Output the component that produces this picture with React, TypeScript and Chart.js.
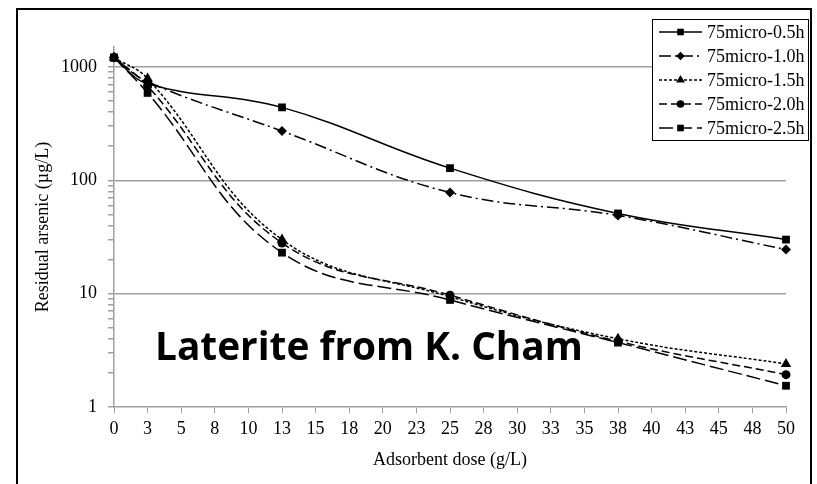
import React, { useEffect, useRef } from "react";
import { Chart, registerables } from "chart.js";

Chart.register(...registerables);

const doses = [0, 2.5, 12.5, 25, 37.5, 50];
const seriesNames = ["75micro-0.5h", "75micro-1.0h", "75micro-1.5h", "75micro-2.0h", "75micro-2.5h"];
const s05 = [1210, 710, 440, 128, 51, 30];
const s10 = [1210, 740, 272, 78, 49, 24.5];
const s15 = [1210, 790, 30, 9.4, 4.0, 2.4];
const s20 = [1210, 680, 28, 9.7, 3.8, 1.93];
const s25 = [1210, 590, 23, 8.8, 3.7, 1.54];
const yMajorTicks = [1, 10, 100, 1000];
const xTickStep = 2.5;
const yTitle = "Residual arsenic (\u00B5g/L)";
const xTitle = "Adsorbent dose (g/L)";
const annotation = "Laterite from K. Cham";

const seriesValues = [s05, s10, s15, s20, s25];
const dashes = [[], [12, 4, 2, 4], [3, 2], [8, 4], [14, 5]];
const shapes = ["rect", "rectRot", "triangle", "circle", "rect"];
const radii = [5.5, 5, 6, 4.5, 5.5];

const SERIF = '"Liberation Serif", "Times New Roman", serif';
const GRAY = "#a0a0a0";

function drawMarker(ctx: CanvasRenderingContext2D, shape: string, x: number, y: number, r: number) {
  ctx.beginPath();
  if (shape === "rect") {
    const s = Math.SQRT1_2 * r;
    ctx.rect(x - s, y - s, 2 * s, 2 * s);
  } else if (shape === "rectRot") {
    ctx.moveTo(x, y - r);
    ctx.lineTo(x + r, y);
    ctx.lineTo(x, y + r);
    ctx.lineTo(x - r, y);
    ctx.closePath();
  } else if (shape === "triangle") {
    ctx.moveTo(x, y - r);
    ctx.lineTo(x + r * 0.866, y + r * 0.5);
    ctx.lineTo(x - r * 0.866, y + r * 0.5);
    ctx.closePath();
  } else {
    ctx.arc(x, y, r, 0, Math.PI * 2);
  }
  ctx.fill();
}

const overlayPlugin = {
  id: "overlay",
  afterDraw(chart: any) {
    const ctx: CanvasRenderingContext2D = chart.ctx;
    ctx.save();
    // outer frame
    ctx.strokeStyle = "#000";
    ctx.lineWidth = 2;
    ctx.setLineDash([]);
    ctx.strokeRect(17, 9, 794, 520);
    // annotation text, fitted to the reference width
    ctx.fillStyle = "#000";
    ctx.font = 'bold 36px "Open Sans"';
    const w = ctx.measureText(annotation).width;
    const size = Math.max(30, Math.min(44, 36 * (428 / (w || 428))));
    ctx.font = `bold ${size.toFixed(1)}px "Open Sans"`;
    ctx.textBaseline = "alphabetic";
    ctx.textAlign = "left";
    ctx.fillText(annotation, 155, 360);
    // legend
    const lx = 652.5, ly = 19.5, lw = 156, lh = 121;
    ctx.fillStyle = "#fff";
    ctx.fillRect(lx, ly, lw, lh);
    ctx.strokeStyle = "#000";
    ctx.lineWidth = 1;
    ctx.strokeRect(lx, ly, lw, lh);
    ctx.font = "18px " + SERIF;
    ctx.textBaseline = "middle";
    chart.data.datasets.forEach((ds: any, i: number) => {
      const y = 32 + 24 * i;
      ctx.strokeStyle = "#000";
      ctx.lineWidth = 1.5;
      ctx.setLineDash(ds.borderDash || []);
      ctx.beginPath();
      ctx.moveTo(659, y);
      ctx.lineTo(702, y);
      ctx.stroke();
      ctx.setLineDash([]);
      ctx.fillStyle = "#000";
      drawMarker(ctx, ds.pointStyle, 680.5, y, ds.pointRadius * 0.85);
      ctx.fillText(ds.label, 707, y + 1);
    });
    ctx.restore();
  },
};

export default function App() {
  const ref = useRef<HTMLCanvasElement>(null);
  useEffect(() => {
    if (!ref.current) return;
    const datasets = seriesNames.map((name, i) => ({
      label: name,
      data: doses.map((d, j) => ({ x: d, y: seriesValues[i][j] })),
      borderColor: "#000",
      backgroundColor: "#000",
      borderWidth: 1.5,
      borderDash: dashes[i],
      pointStyle: shapes[i],
      pointRadius: radii[i],
      pointBorderWidth: 0,
      tension: 0.4,
      clip: false,
    }));
    const chart = new Chart(ref.current, {
      type: "line",
      data: { datasets },
      plugins: [overlayPlugin],
      options: {
        animation: false,
        responsive: false,
        layout: { padding: { left: 0, right: 31, top: 47, bottom: 0 } },
        plugins: { legend: { display: false }, tooltip: { enabled: false } },
        scales: {
          x: {
            type: "linear",
            min: 0,
            max: 50,
            afterBuildTicks: (scale: any) => {
              const t = [];
              for (let v = 0; v <= 50.001; v += xTickStep) t.push({ value: v });
              scale.ticks = t;
            },
            afterFit: (scale: any) => {
              scale.height = 77;
            },
            ticks: {
              autoSkip: false,
              maxRotation: 0,
              padding: 5,
              color: "#000",
              font: { family: SERIF, size: 18 },
              callback: (v: any) => String(Math.round(Number(v))),
            },
            grid: { drawOnChartArea: false, drawTicks: true, tickLength: 6, color: GRAY, tickColor: GRAY },
            border: { color: GRAY, width: 1.5 },
            title: {
              display: true,
              text: xTitle,
              color: "#000",
              font: { family: SERIF, size: 18 },
              padding: { top: 0, bottom: 13 },
            },
          },
          y: {
            type: "logarithmic",
            min: 1,
            max: 1500,
            afterBuildTicks: (scale: any) => {
              const t = [];
              for (let d = 1; d <= 1000; d *= 10) {
                for (let m = 1; m <= 9; m++) {
                  const v = d * m;
                  if (v <= 1500) t.push({ value: v });
                }
              }
              scale.ticks = t;
            },
            afterFit: (scale: any) => {
              scale.width = 114;
            },
            ticks: {
              autoSkip: false,
              padding: 11,
              color: "#000",
              font: { family: SERIF, size: 18 },
              callback: (v: any) => (yMajorTicks.includes(Number(v)) ? String(v) : ""),
            },
            grid: {
              drawTicks: true,
              tickLength: 6,
              tickColor: GRAY,
              lineWidth: 1.5,
              color: (c: any) => {
                const v = c.tick ? c.tick.value : 0;
                return yMajorTicks.includes(v) && v !== 1 ? GRAY : "rgba(0,0,0,0)";
              },
            },
            border: { color: GRAY, width: 1.5 },
            title: {
              display: true,
              text: yTitle,
              color: "#000",
              font: { family: SERIF, size: 18 },
              padding: { top: 32, bottom: 0 },
            },
          },
        },
      },
    } as any);
    return () => chart.destroy();
  }, []);
  return (
    <div style={{ position: "fixed", left: 0, top: 0, width: 817, height: 484, background: "#fff" }}>
      <canvas ref={ref} width={817} height={484} style={{ width: 817, height: 484, display: "block" }} />
    </div>
  );
}
